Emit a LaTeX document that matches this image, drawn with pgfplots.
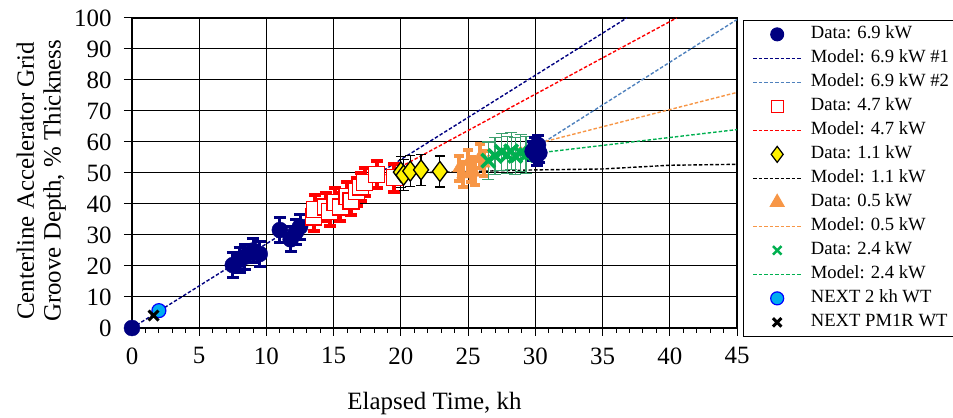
\documentclass[border=0pt]{standalone}
\usepackage{pgfplots}
\usepackage{pgfplotstable}
\pgfplotsset{compat=1.18}
\usepackage{fontspec}
\setmainfont{Liberation Serif}
\definecolor{navy}{RGB}{0,0,128}
\definecolor{lblue}{RGB}{79,129,189}
\definecolor{orng}{RGB}{247,150,70}
\definecolor{grn}{RGB}{0,176,80}
\definecolor{grnbar}{RGB}{60,160,110}
\pgfplotsset{
  mymark/.style={legend image code/.code={\path (0bp,0bp) (55bp,0bp); \draw[##1] plot coordinates {(24bp,0bp)};}},
  mline/.style={line width=1.4bp, dash pattern=on 3.5bp off 2bp},
  ebars/.style n args={4}{error bars/.cd, y dir=both, y explicit,
    error bar style={draw=#1, line width=#2},
    error mark options={rotate=90, draw=#1, mark size=#3, line width=#4}},
}
\pgfplotstableread{
x y e
0 0 0
7.5 20.3 4
8.0 21.9 4
8.4 23.0 4
9.0 25.0 4
9.5 23.9 4
11.0 31.6 4
11.8 28.6 4
12.2 31.0 4
12.5 32.7 4
}\navyA
\pgfplotstableread{
x y e
13.5 35.8 4.5
13.6 38.3 4.5
14.4 39.0 4.5
14.7 37.5 4.5
15.1 40.5 4.5
15.5 39.0 4.5
16.0 42.5 4.5
16.3 41.0 4.5
16.7 44.0 4.5
17.0 45.5 4.5
17.3 47.0 4.5
18.2 49.5 4.5
19.5 48.5 4.5
}\redD
\pgfplotstableread{
x y e
20.0 50.3 5
20.2 49.3 5
20.7 50.6 5
21.5 51.0 5
22.9 50.5 5
}\yelD
\pgfplotstableread{
x y e
24.3 51.5 4
24.6 49.5 4
25.0 53.5 4
25.2 51.0 4
25.5 50.0 4
25.9 55.5 4
26.2 53.0 4
}\orgD
\pgfplotstableread{
x y e
26.5 54.0 6
27.0 55.5 6
27.5 56.8 6
27.9 55.8 6
28.2 57.0 6
28.5 55.5 6
28.9 56.5 6
29.3 55.8 6
}\grnD
\pgfplotstableread{
x y e
29.8 57.0 3
30.0 58.5 3
30.1 55.5 3
30.2 59.0 3
30.3 56.5 3
}\navyB
\begin{document}
\begin{tikzpicture}
\path[use as bounding box] (0,0) rectangle (953bp,418bp);
\begin{axis}[
  at={(132bp,90bp)}, anchor=south west,
  width=605bp, height=310bp, scale only axis,
  xmin=0, xmax=45, ymin=0, ymax=100,
  xtick={0,5,...,45}, ytick={0,10,...,100},
  minor xtick={0,1,...,45},
  grid=major, major grid style={black, line width=1bp},
  axis line style={black, line width=1.2bp},
  tick align=outside, xtick pos=bottom, ytick pos=left,
  major tick length=8bp, minor tick length=5bp,
  tick style={black, line width=1bp},
  ticklabel style={font=\fontsize{25}{28}\selectfont},
  xticklabel style={yshift=-8bp},
  yticklabel style={xshift=-9bp},
  /pgf/number format/assume math mode=true,
  xlabel={Elapsed Time, kh},
  ylabel={Centerline Accelerator Grid\\Groove Depth, \% Thickness},
  label style={font=\fontsize{25}{27}\selectfont},
  xlabel style={at={(axis description cs:0.5,-0.242)}, anchor=center},
  ylabel style={at={(axis description cs:-0.150,0.475)}, anchor=center, align=center},
  clip=false,
  legend style={at={(1.0099,0.994)}, anchor=north west, draw=black, line width=1bp,
    font=\fontsize{18.7}{20}\selectfont, cells={anchor=west}, inner xsep=9bp, inner ysep=2bp,
    nodes={text height=13bp, text depth=4bp, inner ysep=3.5bp, inner xsep=2bp}},
  legend image code/.code={\path (0bp,0bp) (55bp,0bp); \draw[#1] (0bp,0bp) -- (48bp,0bp);},
]
% legend
\addlegendimage{navy, mark=*, mark size=6.5bp, mark options={fill=navy, draw=navy, solid}, mymark}
\addlegendentry{Data: 6.9 kW}
\addlegendimage{navy, mline}
\addlegendentry{Model: 6.9 kW \#1}
\addlegendimage{lblue, mline}
\addlegendentry{Model: 6.9 kW \#2}
\addlegendimage{red, mark=square*, mark size=6bp, mark options={fill=white, draw=red, line width=1.2bp, solid}, mymark}
\addlegendentry{Data: 4.7 kW}
\addlegendimage{red, mline}
\addlegendentry{Model: 4.7 kW}
\addlegendimage{black, mark=diamond*, mark size=8bp, mark options={fill=yellow, draw=black, line width=1.2bp, solid}, mymark}
\addlegendentry{Data: 1.1 kW}
\addlegendimage{black, mline}
\addlegendentry{Model: 1.1 kW}
\addlegendimage{orng, mark=triangle*, mark size=8bp, mark options={fill=orng, draw=orng, solid}, mymark}
\addlegendentry{Data: 0.5 kW}
\addlegendimage{orng, mline}
\addlegendentry{Model: 0.5 kW}
\addlegendimage{grn, mark=x, mark size=6bp, mark options={draw=grn, line width=2.5bp, solid}, mymark}
\addlegendentry{Data: 2.4 kW}
\addlegendimage{grn, mline}
\addlegendentry{Model: 2.4 kW}
\addlegendimage{cyan, mark=*, mark size=6.5bp, mark options={fill=cyan, draw=blue, line width=1.2bp, solid}, mymark}
\addlegendentry{NEXT 2 kh WT}
\addlegendimage{black, mark=x, mark size=6bp, mark options={draw=black, line width=3bp, solid}, mymark}
\addlegendentry{NEXT PM1R WT}

% model lines
\addplot[navy, mline, forget plot] coordinates {(0,0) (36.8,100)};
\addplot[lblue, mline, forget plot] coordinates {(30.3,59) (45,99.5)};
\addplot[red, mline, forget plot] coordinates {(18.5,48.5) (40.5,100)};
\addplot[black, mline, forget plot] coordinates {(20.5,50) (30,51) (35,51.3) (40,52.5) (45,52.8)};
\addplot[orng, mline, forget plot] coordinates {(26,55) (30.3,59.7) (45,76)};
\addplot[grn, mline, forget plot] coordinates {(29,56) (30.3,56.5) (45,64)};

% data 6.9 kW (early)
\addplot[forget plot, draw=none, mark=none, ebars={navy}{3bp}{6bp}{3bp}] table[x=x, y=y, y error=e] {\navyA};
\addplot[forget plot, only marks, navy, mark=*, mark size=8bp, mark options={fill=navy, draw=navy}] table[x=x, y=y] {\navyA};
% data 4.7 kW
\addplot[forget plot, draw=none, mark=none, ebars={red}{4bp}{6bp}{4bp}] table[x=x, y=y, y error=e] {\redD};
\addplot[forget plot, only marks, red, mark=square*, mark size=8bp, mark options={fill=white, draw=red, line width=1.3bp}] table[x=x, y=y] {\redD};
% data 1.1 kW
\addplot[forget plot, draw=none, mark=none, ebars={black}{1.2bp}{5bp}{1.2bp}] table[x=x, y=y, y error=e] {\yelD};
\addplot[forget plot, only marks, black, mark=diamond*, mark size=10bp, mark options={fill=yellow, draw=black, line width=1.3bp}] table[x=x, y=y] {\yelD};
% data 0.5 kW
\addplot[forget plot, draw=none, mark=none, ebars={orng}{4bp}{5bp}{4bp}] table[x=x, y=y, y error=e] {\orgD};
\addplot[forget plot, only marks, orng, mark=triangle*, mark size=7bp, mark options={fill=orng, draw=orng}] table[x=x, y=y] {\orgD};
% data 2.4 kW
\addplot[forget plot, draw=none, mark=none, ebars={grnbar}{1.2bp}{6bp}{1.2bp}] table[x=x, y=y, y error=e] {\grnD};
\addplot[forget plot, only marks, grn, mark=x, mark size=9.5bp, mark options={draw=grn, line width=3.5bp}] table[x=x, y=y] {\grnD};
% data 6.9 kW (late)
\addplot[forget plot, draw=none, mark=none, ebars={navy}{3bp}{6bp}{3bp}] table[x=x, y=y, y error=e] {\navyB};
\addplot[forget plot, only marks, navy, mark=*, mark size=8bp, mark options={fill=navy, draw=navy}] table[x=x, y=y] {\navyB};
% NEXT 2 kh WT
\addplot[forget plot, only marks, mark=*, mark size=7bp, mark options={fill=cyan, draw=blue, line width=1.2bp}]
  coordinates {(2.0,5.6)};
% NEXT PM1R WT
\addplot[forget plot, only marks, mark=x, mark size=7bp, mark options={draw=black, line width=3bp}]
  coordinates {(1.6,4.0)};
\end{axis}
\end{tikzpicture}
\end{document}
